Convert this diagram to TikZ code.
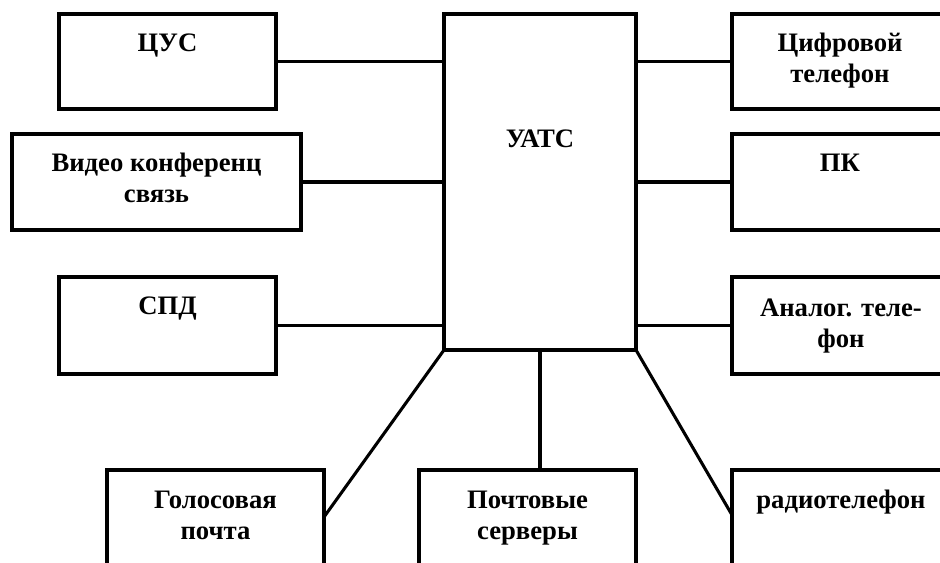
\documentclass[tikz,border=0pt]{standalone}
\usepackage{fontspec}
\setmainfont{Liberation Serif}
\usetikzlibrary{calc}
\tikzset{
  blk/.style={draw, line width=2.3pt, inner sep=0pt, outer sep=0pt, anchor=north west,
    minimum width=162.75pt, minimum height=71.25pt},
  lbl/.style={anchor=base, align=center, inner sep=0pt,
    font=\bfseries\fontsize{20}{23.25}\selectfont},
  wire/.style={line width=2.3pt}
}
\begin{document}
\begin{tikzpicture}[x=0.75pt, y=-0.75pt]
\useasboundingbox (0,0) rectangle (940,563);
\clip (0,0) rectangle (940,563);
% boxes
\node[blk] (cus) at (59,14) {};
\node[blk, minimum width=216.75pt, minimum height=72pt] (video) at (12,134) {};
\node[blk, minimum height=72.75pt] (spd) at (59,277) {};
\node[blk, minimum width=144pt, minimum height=252pt] (uats) at (444,14) {};
\node[blk] (cif) at (732,14) {};
\node[blk, minimum height=72pt] (pk) at (732,134) {};
\node[blk, minimum height=72.75pt] (analog) at (732,277) {};
\node[blk, minimum height=90pt] (golos) at (107,470) {};
\node[blk, minimum height=90pt] (pocht) at (419,470) {};
\node[blk, minimum height=90pt] (radio) at (732,470) {};
% labels (anchor=base is the baseline of the last line)
\node[lbl] (tcus) at (167.5,52) {ЦУС};
\node[lbl] (tvideo) at (156.5,203) {Видео конференц\\связь};
\node[lbl] (tspd) at (167.5,315) {СПД};
\node[lbl] (tuats) at (540,148) {УАТС};
\node[lbl] (tcif) at (840,83) {Цифровой\\телефон};
\node[lbl] (tpk) at (840,172) {ПК};
\node[lbl] (tanalog) at (841,348) {Аналог. теле-\\фон};
\node[lbl] (tgolos) at (215.5,539) {Голосовая\\почта};
\node[lbl] (tpocht) at (527.5,539) {Почтовые\\серверы};
\node[lbl] (tradio) at (841,508) {радиотелефон};
% connectors
\draw[wire] (cus.east) -- (cus.east -| uats.west);
\draw[wire] (video.east) -- (video.east -| uats.west);
\draw[wire] (spd.east) -- (spd.east -| uats.west);
\draw[wire] (cif.west) -- (cif.west -| uats.east);
\draw[wire] (pk.west) -- (pk.west -| uats.east);
\draw[wire] (analog.west) -- (analog.west -| uats.east);
\draw[wire] (uats.south west) -- ($(golos.north east)+(0,47)$);
\draw[wire] (uats.south) -- (uats.south |- pocht.north);
\draw[wire] (uats.south east) -- ($(radio.north west)+(0,45)$);
\end{tikzpicture}
\end{document}
